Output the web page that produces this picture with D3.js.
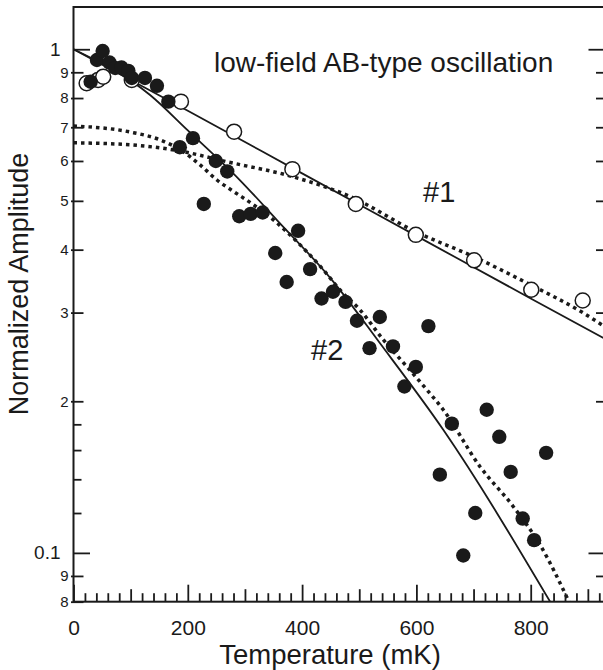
<!DOCTYPE html>
<html>
<head>
<meta charset="utf-8">
<script src="https://cdn.jsdelivr.net/npm/d3@7"></script>
<style>
  body { margin: 0; background: white; }
  text { font-family: "Liberation Sans", Arial, Helvetica, sans-serif; }
</style>
</head>
<body>
<div id="wrapper"></div>
<script>
// open circles, sample #1 (temperature in mK, normalized amplitude)
const openTemp = [23, 43, 52, 102, 188, 281, 383, 494, 599, 701, 801, 891]
const openAmp = [0.856, 0.869, 0.882, 0.869, 0.787, 0.686, 0.578, 0.493, 0.428, 0.381, 0.333, 0.317]

// filled circles, sample #2
const filledTemp = [30, 41, 51, 63, 73, 84, 96, 102, 125, 146, 166, 186, 209, 228, 249, 269,
  290, 310, 331, 353, 373, 393, 414, 434, 454, 476, 496, 518, 536, 559, 579, 599,
  621, 641, 662, 682, 703, 723, 745, 765, 786, 806, 827]
const filledAmp = [0.862, 0.952, 0.992, 0.941, 0.918, 0.920, 0.906, 0.877, 0.877, 0.846, 0.787, 0.639, 0.666, 0.493, 0.600, 0.572,
  0.466, 0.471, 0.474, 0.394, 0.345, 0.436, 0.366, 0.320, 0.330, 0.315, 0.289, 0.255, 0.294, 0.257, 0.214, 0.234,
  0.282, 0.143, 0.1805, 0.0988, 0.120, 0.1924, 0.170, 0.1448, 0.117, 0.106, 0.158]

// fit curves
const fit1SolidTemp = [0, 200, 400, 600, 800, 930]
const fit1SolidAmp = [1.0, 0.755, 0.567, 0.426, 0.320, 0.266]
const fit2SolidTemp = [0, 134, 200, 291, 356, 452, 536, 647, 834]
const fit2SolidAmp = [1.0, 0.811, 0.69, 0.550, 0.458, 0.3485, 0.261, 0.1756, 0.08]
const fit1DotTemp = [0, 99, 186, 268, 382, 484, 599, 701, 801, 892, 930]
const fit1DotAmp = [0.652, 0.646, 0.628, 0.598, 0.559, 0.510, 0.434, 0.387, 0.340, 0.2995, 0.281]
const fit2DotTemp = [0, 99, 151, 192, 221, 251, 280, 315, 356, 402, 437, 466, 501, 542, 583, 618, 647, 711, 769, 816, 867]
const fit2DotAmp = [0.704, 0.685, 0.661, 0.626, 0.590, 0.550, 0.522, 0.491, 0.452, 0.403, 0.365, 0.333, 0.304, 0.265, 0.2345, 0.211, 0.1924, 0.1485, 0.1238, 0.1039, 0.08]

// tick values
const xTicks = [0, 200, 400, 600, 800]
const yMajor = [1, 0.1]
const yMajorLabels = ["1", "0.1"]
const yMinorLabeled = [0.9, 0.8, 0.7, 0.6, 0.5, 0.4, 0.3, 0.2, 0.09, 0.08]
const yMinorPlain = [0.18, 0.16, 0.14, 0.12]

function drawChart() {
  const zip = (xs, ys) => xs.map((x, i) => ({ t: x, a: ys[i] }))
  const openPts = zip(openTemp, openAmp)
  const filledPts = zip(filledTemp, filledAmp)

  const xAccessor = d => d.t
  const yAccessor = d => d.a

  let dimensions = {
    width: 603,
    height: 670,
    margin: { top: 7, right: -2, bottom: 68.3, left: 73.5 },
  }
  dimensions.boundedWidth = dimensions.width - dimensions.margin.left - dimensions.margin.right
  dimensions.boundedHeight = dimensions.height - dimensions.margin.top - dimensions.margin.bottom

  const wrapper = d3.select("#wrapper")
    .append("svg")
      .attr("width", dimensions.width)
      .attr("height", dimensions.height)
      .style("display", "block")

  const bounds = wrapper.append("g")
      .attr("transform", `translate(${dimensions.margin.left},${dimensions.margin.top})`)

  const xScale = d3.scaleLinear()
      .domain([0, 930])
      .range([0, dimensions.boundedWidth])
  const yScale = d3.scaleLog()
      .domain([0.08, 1.213])
      .range([dimensions.boundedHeight, 0])

  bounds.append("clipPath")
      .attr("id", "clip")
    .append("rect")
      .attr("width", dimensions.boundedWidth)
      .attr("height", dimensions.boundedHeight)

  const lineGenerator = d3.line()
      .x(d => xScale(xAccessor(d)))
      .y(d => yScale(yAccessor(d)))
      .curve(d3.curveMonotoneX)

  const plot = bounds.append("g").attr("clip-path", "url(#clip)")

  // fits
  const fits = [
    { pts: zip(fit1SolidTemp, fit1SolidAmp), dash: null },
    { pts: zip(fit2SolidTemp, fit2SolidAmp), dash: null },
    { pts: zip(fit1DotTemp, fit1DotAmp), dash: "3.5,4" },
    { pts: zip(fit2DotTemp, fit2DotAmp), dash: "3.5,4" },
  ]
  plot.selectAll(".fit")
      .data(fits)
    .enter().append("path")
      .attr("class", "fit")
      .attr("d", d => lineGenerator(d.pts))
      .attr("fill", "none")
      .attr("stroke", "#1a1a1a")
      .attr("stroke-width", d => d.dash ? 3.5 : 1.8)
      .attr("stroke-dasharray", d => d.dash)

  // open circles first, filled ones over them
  plot.selectAll(".open")
      .data(openPts)
    .enter().append("circle")
      .attr("class", "open")
      .attr("cx", d => xScale(xAccessor(d)))
      .attr("cy", d => yScale(yAccessor(d)))
      .attr("r", 7.5)
      .attr("fill", "white")
      .attr("stroke", "#1a1a1a")
      .attr("stroke-width", 1.5)

  plot.selectAll(".filled")
      .data(filledPts)
    .enter().append("circle")
      .attr("class", "filled")
      .attr("cx", d => xScale(xAccessor(d)))
      .attr("cy", d => yScale(yAccessor(d)))
      .attr("r", 7.2)
      .attr("fill", "#1a1a1a")

  // frame
  bounds.append("rect")
      .attr("width", dimensions.boundedWidth)
      .attr("height", dimensions.boundedHeight)
      .attr("fill", "none")
      .attr("stroke", "#1a1a1a")
      .attr("stroke-width", 2)

  const styleAxis = (g, size) => {
    g.select(".domain").remove()
    g.selectAll("line").attr("stroke", "#1a1a1a").attr("stroke-width", 1.8)
    g.selectAll("text").attr("fill", "#1a1a1a").style("font-size", size)
      .style("font-family", '"Liberation Sans", Arial, sans-serif')
  }

  // bottom axis, ticks pointing up
  const minorX = d3.range(0, 930, 20).filter(v => v % 100 !== 0)
  const midX = [100, 300, 500, 700, 900]
  const xAxisMinor = bounds.append("g")
      .attr("transform", `translate(0,${dimensions.boundedHeight})`)
      .call(d3.axisBottom(xScale).tickValues(minorX).tickSizeInner(-8.5).tickSizeOuter(0).tickFormat(""))
  styleAxis(xAxisMinor, "1px")
  const xAxisMid = bounds.append("g")
      .attr("transform", `translate(0,${dimensions.boundedHeight})`)
      .call(d3.axisBottom(xScale).tickValues(midX).tickSizeInner(-12.5).tickSizeOuter(0).tickFormat(""))
  styleAxis(xAxisMid, "1px")
  const xAxis = bounds.append("g")
      .attr("transform", `translate(0,${dimensions.boundedHeight})`)
      .call(d3.axisBottom(xScale).tickValues(xTicks).tickSizeInner(-17).tickSizeOuter(0).tickPadding(18))
  styleAxis(xAxis, "21px")

  xAxis.append("text")
      .attr("x", 330 - dimensions.margin.left)
      .attr("y", 664 - dimensions.margin.top - dimensions.boundedHeight)
      .attr("fill", "#1a1a1a")
      .style("font-size", "27.5px")
      .style("text-anchor", "middle")
      .text("Temperature (mK)")

  // left axis
  const yAxisMajor = bounds.append("g")
      .call(d3.axisLeft(yScale).tickValues(yMajor).tickSizeInner(-16.5).tickSizeOuter(0).tickPadding(13)
        .tickFormat((d, i) => yMajorLabels[i]))
  styleAxis(yAxisMajor, "19px")
  const yAxisMinor = bounds.append("g")
      .call(d3.axisLeft(yScale).tickValues(yMinorLabeled).tickSizeInner(-10).tickSizeOuter(0).tickPadding(5)
        .tickFormat(d => d3.format(".0f")(d < 0.1 ? d * 100 : d * 10)))
  styleAxis(yAxisMinor, "15px")
  // these ticks poke out a little past the axis line
  yAxisMinor.selectAll("line").attr("x1", -2.5)
  const yAxisPlain = bounds.append("g")
      .call(d3.axisLeft(yScale).tickValues(yMinorPlain).tickSizeInner(-8).tickSizeOuter(0).tickFormat(""))
  styleAxis(yAxisPlain, "1px")

  bounds.append("text")
      .attr("transform", `translate(${28 - dimensions.margin.left},${284 - dimensions.margin.top}) rotate(-90)`)
      .attr("fill", "#1a1a1a")
      .style("font-size", "27px")
      .style("text-anchor", "middle")
      .text("Normalized Amplitude")

  // right axis, ticks pointing in, no labels
  const rightMajor = bounds.append("g")
      .attr("transform", `translate(${dimensions.boundedWidth},0)`)
      .call(d3.axisRight(yScale).tickValues(yMajor).tickSizeInner(-16.5).tickSizeOuter(0).tickFormat(""))
  styleAxis(rightMajor, "1px")
  const rightMinor = bounds.append("g")
      .attr("transform", `translate(${dimensions.boundedWidth},0)`)
      .call(d3.axisRight(yScale).tickValues([0.9, 0.8, 0.7, 0.6, 0.5, 0.4, 0.3, 0.2, 0.09])
        .tickSizeInner(-9).tickSizeOuter(0).tickFormat(""))
  styleAxis(rightMinor, "1px")

  // annotations
  const notes = [
    { text: "low-field AB-type oscillation", x: 214, y: 72, size: "28px" },
    { text: "#1", x: 423, y: 201.5, size: "29px" },
    { text: "#2", x: 311, y: 360, size: "29px" },
  ]
  wrapper.selectAll(".note")
      .data(notes)
    .enter().append("text")
      .attr("class", "note")
      .attr("x", d => d.x)
      .attr("y", d => d.y)
      .attr("fill", "#1a1a1a")
      .style("font-size", d => d.size)
      .text(d => d.text)
}
drawChart()
</script>
</body>
</html>
